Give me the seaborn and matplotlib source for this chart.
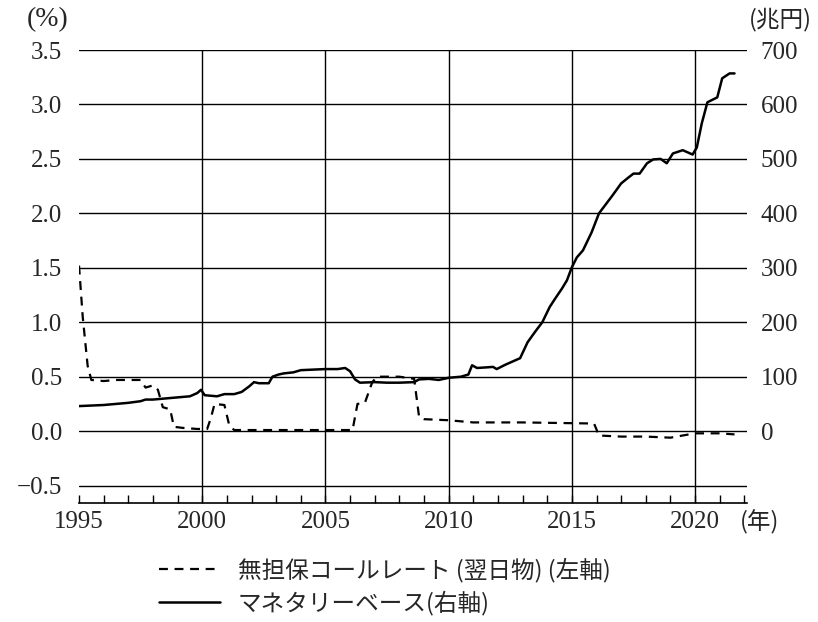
import numpy as np
import pandas as pd
import matplotlib
matplotlib.use("Agg")
import matplotlib.pyplot as plt
import seaborn as sns
from matplotlib.ticker import MultipleLocator

# ==================================================
# DATA
# ==================================================
call_years = [1995.0, 1995.15, 1995.35, 1995.5, 1996.0, 1996.5, 1997.0, 1997.5,
              1997.7, 1998.0, 1998.2, 1998.4, 1998.7, 1998.85, 1999.2, 1999.8,
              2000.2, 2000.35, 2000.5, 2000.9, 2001.1, 2001.3, 2006.1, 2006.3,
              2006.6, 2006.9, 2007.1, 2008.0, 2008.6, 2008.8, 2009.0, 2010.0,
              2011.0, 2013.0, 2015.9, 2016.1, 2017.0, 2018.0, 2019.0, 2019.5,
              2020.0, 2021.0, 2021.6]
call_rate = [1.52, 1.05, 0.60, 0.47, 0.46, 0.47, 0.47, 0.47,
             0.40, 0.42, 0.38, 0.22, 0.20, 0.04, 0.03, 0.02,
             0.02, 0.12, 0.25, 0.24, 0.05, 0.01, 0.01, 0.25,
             0.26, 0.45, 0.50, 0.50, 0.48, 0.13, 0.11, 0.10,
             0.08, 0.08, 0.07, -0.04, -0.05, -0.05, -0.06, -0.04,
             -0.02, -0.02, -0.03]

mb_years = [1995.0, 1995.5, 1996.0, 1996.5, 1997.0, 1997.5, 1997.7, 1998.0,
            1998.5, 1999.0, 1999.5, 1999.8, 1999.95, 2000.1, 2000.6, 2000.9,
            2001.3, 2001.6, 2001.9, 2002.1, 2002.3, 2002.7, 2002.85, 2003.1,
            2003.3, 2003.7, 2004.0, 2004.5, 2005.0, 2005.5, 2005.8, 2006.0,
            2006.2, 2006.4, 2007.0, 2007.5, 2008.0, 2008.6, 2008.8, 2009.2,
            2009.6, 2010.0, 2010.5, 2010.8, 2010.95, 2011.15, 2011.5, 2011.8,
            2011.95, 2012.3, 2012.6, 2012.9, 2013.2, 2013.5, 2013.8, 2014.1,
            2014.3, 2014.6, 2014.8, 2015.0, 2015.2, 2015.45, 2015.8, 2016.1,
            2016.4, 2016.65, 2017.0, 2017.3, 2017.5, 2017.75, 2018.05, 2018.3,
            2018.6, 2018.85, 2019.1, 2019.5, 2019.9, 2020.07, 2020.27, 2020.5,
            2020.9, 2021.1, 2021.4, 2021.6]
monetary_base = [46, 47, 48, 50, 52, 55, 58, 58,
                 60, 62, 64, 70, 76, 66, 64, 68,
                 68, 72, 82, 90, 88, 88, 100, 104,
                 106, 108, 112, 113, 114, 114, 116, 110,
                 95, 89, 90, 89, 89, 90, 95, 96,
                 94, 98, 100, 104, 121, 116, 117, 118,
                 114, 122, 128, 134, 163, 182, 200, 228,
                 242, 262, 277, 301, 319, 332, 365, 400,
                 418, 433, 455, 466, 473, 473, 492, 499,
                 500, 492, 510, 516, 508, 521, 565, 604,
                 613, 648, 657, 657]

left_ticks = [-0.5, 0.0, 0.5, 1.0, 1.5, 2.0, 2.5, 3.0, 3.5]
right_ticks = [0, 100, 200, 300, 400, 500, 600, 700]
x_ticks = [1995, 2000, 2005, 2010, 2015, 2020]

label_call = "無担保コールレート (翌日物) (左軸)"
label_mb = "マネタリーベース(右軸)"

# ==================================================
# STYLE
# ==================================================
sns.set_theme(style="white")
plt.rcParams["font.family"] = ["Liberation Serif", "Noto Sans CJK JP", "DejaVu Sans"]
jp_font = ["Noto Sans CJK JP", "DejaVu Sans"]

call_df = pd.DataFrame({"year": call_years, "rate": call_rate})
mb_df = pd.DataFrame({"year": mb_years, "base": monetary_base})

fig = plt.figure(figsize=(8.18, 6.22), dpi=100)
ax = fig.add_axes([0.0966, 0.1913, 0.8164, 0.7283])
ax2 = ax.twinx()

sns.lineplot(data=call_df, x="year", y="rate", ax=ax, color="black",
             linewidth=1.6, linestyle=(0, (4, 3)), label=label_call, legend=False)
sns.lineplot(data=mb_df, x="year", y="base", ax=ax2, color="black",
             linewidth=1.8, label=label_mb, legend=False)

# axes limits and ratio: 1% <-> 200 trillion yen
ax.set_xlim(1995, 2022.1)
ax.set_ylim(-0.66, 3.5)
ax2.set_ylim(-132, 700)

ax.set_yticks(left_ticks)
ax.set_yticklabels([f"{v:.1f}".replace("-", "\u2212") for v in left_ticks], fontsize=18)
ax2.set_yticks(right_ticks)
ax2.set_yticklabels([str(v) for v in right_ticks], fontsize=18)
ax.set_xticks(x_ticks)
ax.set_xticklabels([str(v) for v in x_ticks], fontsize=18)
ax.xaxis.set_minor_locator(MultipleLocator(1))

ax.tick_params(axis="x", which="both", direction="in", length=6, width=1,
               color="black", pad=6, bottom=True)
ax.tick_params(axis="y", length=0, pad=12)
ax2.tick_params(axis="y", length=0, pad=10)

ax.set_xlabel("")
ax.set_ylabel("")
ax2.set_ylabel("")

# grid
ax.grid(True, axis="both", which="major", color="black", linewidth=1.0)
ax.get_xgridlines()[0].set_visible(False)
ax2.grid(False)

for side in ["left", "right", "top"]:
    ax.spines[side].set_visible(False)
    ax2.spines[side].set_visible(False)
ax.spines["bottom"].set_color("black")
ax.spines["bottom"].set_linewidth(1.2)
ax2.spines["bottom"].set_visible(False)

# unit labels
fig.text(0.058, 0.968, "(%)", fontsize=20, ha="center", va="center")
fig.text(0.993, 0.968, "(兆円)", fontsize=17, ha="right", va="center", family=jp_font)
fig.text(0.905, 0.160, "(年)", fontsize=17, ha="left", va="center", family=jp_font)

# legend below
h1, l1 = ax.get_legend_handles_labels()
h2, l2 = ax2.get_legend_handles_labels()
fig.legend(h1 + h2, l1 + l2, loc="upper left", bbox_to_anchor=(0.188, 0.111),
           frameon=False, handlelength=2.6, handletextpad=0.75, labelspacing=0.35,
           borderaxespad=0, borderpad=0.2,
           prop={"family": jp_font, "size": 17})

fig.savefig("out.png", dpi=100)
plt.close(fig)
